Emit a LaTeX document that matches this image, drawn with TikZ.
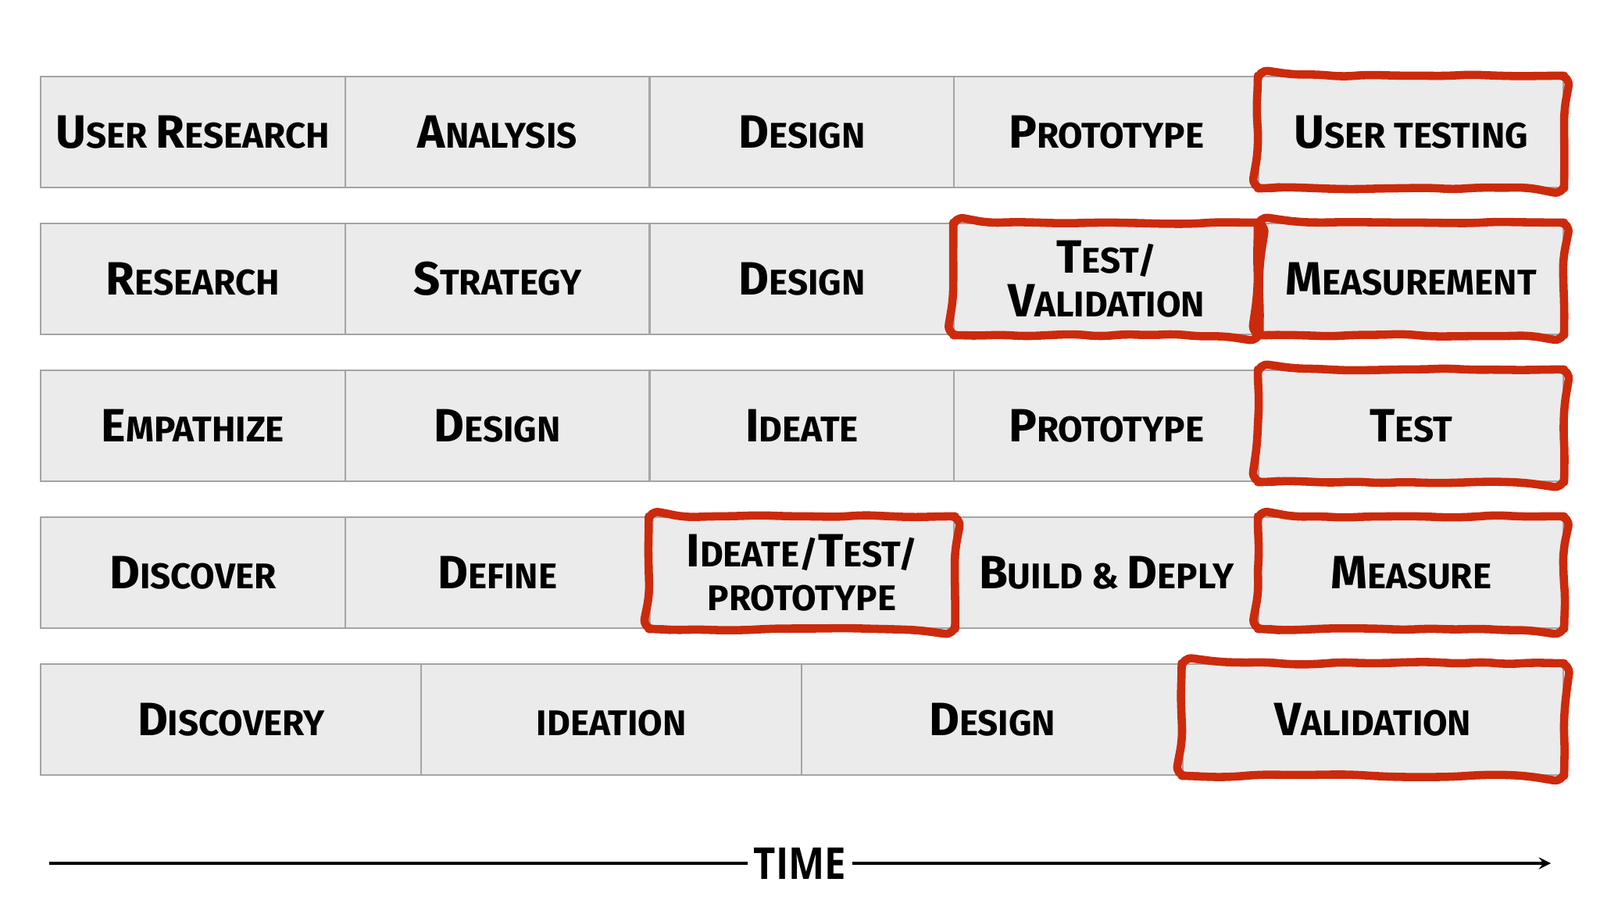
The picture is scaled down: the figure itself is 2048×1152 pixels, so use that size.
\documentclass[tikz,border=0pt]{standalone}
\usepackage{fontspec}
\setmainfont{Fira Sans}
\newfontfamily\timefont{Open Sans}
\usetikzlibrary{positioning,decorations.pathmorphing}

\definecolor{cellgray}{HTML}{EBEBEB}
\definecolor{edgegray}{HTML}{A4A4A4}
\definecolor{markred}{HTML}{CC2A0C}

% bigger first letter, small caps look
\newcommand{\cp}[1]{{\fontsize{17}{17}\selectfont #1}}

\tikzset{
  cell/.style={draw=edgegray, fill=cellgray, line width=0.6pt,
    minimum width=3.898cm, minimum height=1.42cm, inner sep=0pt,
    font=\fontsize{13}{16}\selectfont\bfseries, align=center},
  widecell/.style={cell, minimum width=4.8725cm},
  redbox/.style={draw=markred, line width=3pt, line cap=round, line join=round,
    rounded corners=4pt, decorate,
    decoration={random steps, segment length=9pt, amplitude=0.5pt}},
}

\begin{document}
\begin{tikzpicture}[x=0.01cm, y=-0.01cm]
    \useasboundingbox (0,0) rectangle (2048,1152);

    % Row 1
    \foreach \txt [count=\i] in {{\cp{U}SER \cp{R}ESEARCH}, {\cp{A}NALYSIS},
        {\cp{D}ESIGN}, {\cp{P}ROTOTYPE}, {\cp{U}SER TESTING}} {
      \node [cell] (a\i) at ({246.9+389.8*(\i-1)}, 169) {\txt};
    }

    % Row 2
    \foreach \txt [count=\i] in {{\cp{R}ESEARCH}, {\cp{S}TRATEGY},
        {\cp{D}ESIGN}, {\cp{T}EST/\\\cp{V}ALIDATION}, {\cp{M}EASUREMENT}} {
      \node [cell] (b\i) at ({246.9+389.8*(\i-1)}, 357) {\txt};
    }

    % Row 3
    \foreach \txt [count=\i] in {{\cp{E}MPATHIZE}, {\cp{D}ESIGN},
        {\cp{I}DEATE}, {\cp{P}ROTOTYPE}, {\cp{T}EST}} {
      \node [cell] (c\i) at ({246.9+389.8*(\i-1)}, 545) {\txt};
    }

    % Row 4
    \foreach \txt [count=\i] in {{\cp{D}ISCOVER}, {\cp{D}EFINE},
        {\cp{I}DEATE/\cp{T}EST/\\PROTOTYPE}, {\cp{B}UILD \& \cp{D}EPLY}, {\cp{M}EASURE}} {
      \node [cell] (d\i) at ({246.9+389.8*(\i-1)}, 733) {\txt};
    }

    % Row 5
    \foreach \txt [count=\i] in {{\cp{D}ISCOVERY}, {\vphantom{\cp{I}}IDEATION},
        {\cp{D}ESIGN}, {\cp{V}ALIDATION}} {
      \node [widecell] (e\i) at ({295.6+487.25*(\i-1)}, 921) {\txt};
    }

    % Red marks
    \foreach \n in {a5, b4, b5, c5, d3, d5, e4} {
      \draw [redbox] (\n.west) |- (\n.north) -| (\n.south east) -| (\n.west);
    }

    % Time axis
    \coordinate (tstart) at (63, 1105);
    \coordinate (tend) at (1985, 1105);
    \node [font=\timefont\bfseries\fontsize{16}{16}\selectfont, inner xsep=2pt]
          (time) at (1024, 1105) {\scalebox{0.87}[1]{TIME}};
    \draw [line width=0.9pt] (tstart) -- (time.west);
    \draw [line width=0.9pt, -stealth] (time.east) -- (tend);
\end{tikzpicture}
\end{document}
